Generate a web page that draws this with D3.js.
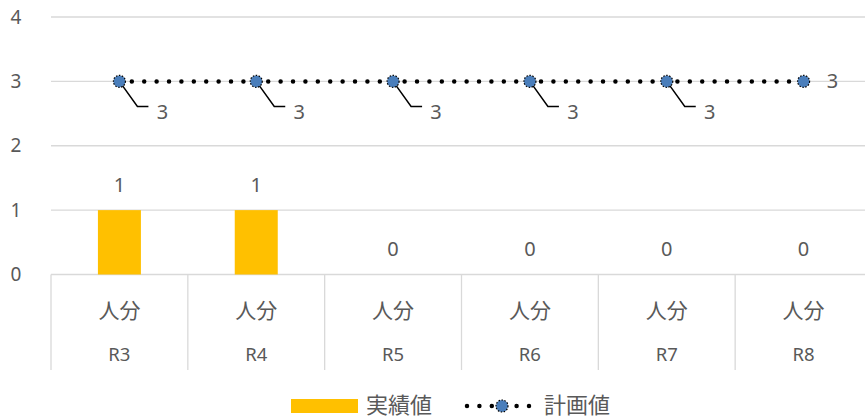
<!DOCTYPE html>
<html><head><meta charset="utf-8">
<script src="https://cdn.jsdelivr.net/npm/d3@7"></script>
<style>body{margin:0;background:#fff}svg{display:block}text{font-family:"Noto Sans","Noto Sans CJK JP",sans-serif;fill:#595959}</style>
</head><body><svg id="c" width="865" height="418"></svg>
<script>
const years = ["R3","R4","R5","R6","R7","R8"];
const unitLabels = ["人分","人分","人分","人分","人分","人分"];
const actual = [1,1,0,0,0,0];
const plan = [3,3,3,3,3,3];
const yTicks = [0,1,2,3,4];
const seriesNames = ["実績値","計画値"];

(function(){
const svg = d3.select("#c");
const mLeft = 51, mRight = 872, mTop = 17, mBottom = 274.5;
const x = d3.scaleBand().domain(d3.range(years.length)).range([mLeft,mRight]);
const y = d3.scaleLinear().domain([0,4]).range([mBottom,mTop]);
const grid = "#d9d9d9";
const cjk = '"Noto Sans CJK JP",sans-serif';

svg.append("g").selectAll("line").data(yTicks).join("line")
  .attr("x1",mLeft).attr("x2",mRight).attr("y1",d=>y(d)).attr("y2",d=>y(d))
  .attr("stroke",grid).attr("stroke-width",1.3);
svg.append("g").selectAll("text").data(yTicks).join("text")
  .attr("x",16).attr("y",d=>y(d)).attr("dy","0.35em").attr("text-anchor","middle")
  .attr("font-size",19).text(d=>d);

svg.append("g").selectAll("line").data(d3.range(years.length+1)).join("line")
  .attr("x1",d=>mLeft+d*x.bandwidth()).attr("x2",d=>mLeft+d*x.bandwidth())
  .attr("y1",mBottom).attr("y2",370).attr("stroke",grid).attr("stroke-width",1.3);
svg.append("g").selectAll("text").data(unitLabels).join("text")
  .attr("x",(d,i)=>x(i)+x.bandwidth()/2).attr("y",310).attr("dy","0.36em")
  .attr("text-anchor","middle").attr("font-size",21).style("font-family",cjk).text(d=>d);
svg.append("g").selectAll("text").data(years).join("text")
  .attr("x",(d,i)=>x(i)+x.bandwidth()/2).attr("y",355).attr("dy","0.35em")
  .attr("text-anchor","middle").attr("font-size",18.5).text(d=>d);

const bw = 43;
svg.append("g").selectAll("rect").data(actual).join("rect")
  .attr("x",(d,i)=>x(i)+x.bandwidth()/2-bw/2).attr("width",bw)
  .attr("y",d=>y(d)).attr("height",d=>y(0)-y(d)).attr("fill","#ffc000");
svg.append("g").selectAll("text").data(actual).join("text")
  .attr("x",(d,i)=>x(i)+x.bandwidth()/2).attr("y",d=>y(d)-25.5).attr("dy","0.35em")
  .attr("text-anchor","middle").attr("font-size",20).text(d=>d);

const cx = i=>x(i)+x.bandwidth()/2;
svg.append("path").datum(plan)
  .attr("d",d3.line().x((d,i)=>cx(i)).y(d=>y(d)))
  .attr("fill","none").attr("stroke","#000").attr("stroke-width",4.5)
  .attr("stroke-linecap","round").attr("stroke-dasharray","0 12.4");
plan.forEach((v,i)=>{
  const px=cx(i), py=y(v);
  if(i<plan.length-1){
    svg.append("path").attr("d",`M${px},${py}L${px+18},${py+25}L${px+29},${py+25}`)
      .attr("fill","none").attr("stroke","#000").attr("stroke-width",1.5);
    svg.append("text").attr("x",px+43).attr("y",py+31).attr("dy","0.35em")
      .attr("text-anchor","middle").attr("font-size",20).text(v);
  } else {
    svg.append("text").attr("x",px+29).attr("y",py).attr("dy","0.35em")
      .attr("text-anchor","middle").attr("font-size",20).text(v);
  }
});
svg.append("g").selectAll("circle").data(plan).join("circle")
  .attr("cx",(d,i)=>cx(i)).attr("cy",d=>y(d)).attr("r",6)
  .attr("fill","#4a7ebb").attr("stroke","#000").attr("stroke-width",1.2).attr("stroke-dasharray","1.5 1.5");

const lg = svg.append("g");
lg.append("rect").attr("x",291).attr("y",399).attr("width",67).attr("height",14).attr("fill","#ffc000");
lg.append("text").attr("x",366).attr("y",405).attr("dy","0.36em").attr("font-size",22).style("font-family",cjk).text(seriesNames[0]);
lg.append("line").attr("x1",467).attr("x2",534).attr("y1",406).attr("y2",406)
  .attr("stroke","#000").attr("stroke-width",4.5).attr("stroke-linecap","round").attr("stroke-dasharray","0 12.4");
lg.append("circle").attr("cx",502).attr("cy",406).attr("r",6).attr("fill","#4a7ebb")
  .attr("stroke","#000").attr("stroke-width",1.2).attr("stroke-dasharray","1.5 1.5");
lg.append("text").attr("x",544).attr("y",405).attr("dy","0.36em").attr("font-size",22).style("font-family",cjk).text(seriesNames[1]);
})();
</script></body></html>
